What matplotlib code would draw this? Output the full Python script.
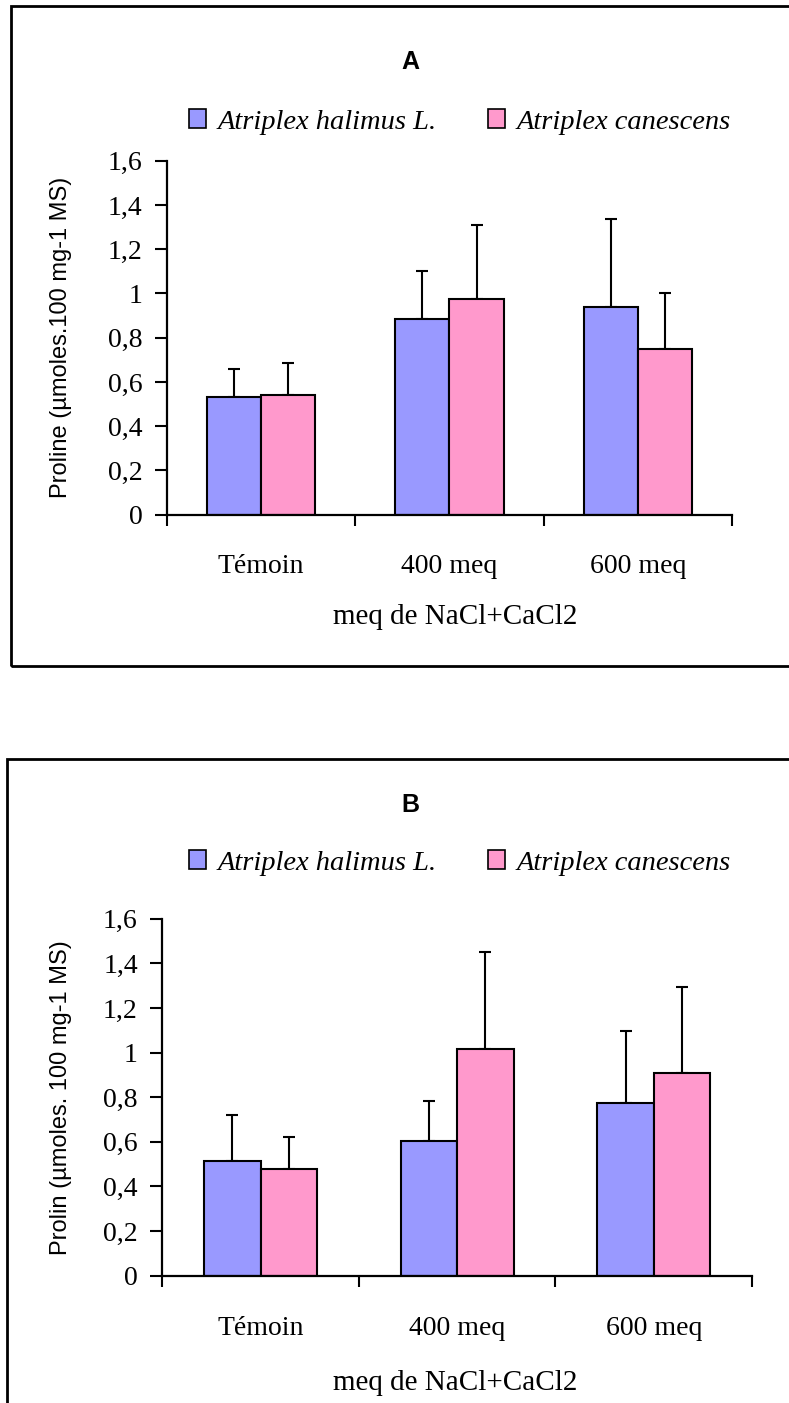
import matplotlib
matplotlib.use("Agg")
from matplotlib import pyplot as plt
from matplotlib.patches import Rectangle, Patch

# data
categories = ["Témoin", "400 meq", "600 meq"]
series_names = ["Atriplex halimus L.", "Atriplex canescens"]

a_halimus = [0.533, 0.885, 0.940]
a_halimus_err = [0.126, 0.216, 0.396]
a_canescens = [0.541, 0.975, 0.749]
a_canescens_err = [0.146, 0.334, 0.253]

b_halimus = [0.514, 0.604, 0.776]
b_halimus_err = [0.206, 0.180, 0.322]
b_canescens = [0.480, 1.016, 0.910]
b_canescens_err = [0.142, 0.433, 0.385]

yticks = [0, 0.2, 0.4, 0.6, 0.8, 1.0, 1.2, 1.4, 1.6]
ytick_labels = ["0", "0,2", "0,4", "0,6", "0,8", "1", "1,2", "1,4", "1,6"]

blue = "#9999FF"
pink = "#FF99CC"
serif = "Liberation Serif"
sans = "Liberation Sans"

W, H = 789, 1403


def panel(fig, rect, title, title_y, leg_y, ylabel, s1, e1, s2, e2, tick_pad, xlab_y, ylab_x):
    ax = fig.add_axes(rect)
    x = list(range(len(categories)))
    w = 0.287
    x1 = [i - w / 2 for i in x]
    x2 = [i + w / 2 for i in x]
    ax.bar(x1, s1, w, color=blue, edgecolor="black", linewidth=1.5, zorder=2)
    ax.bar(x2, s2, w, color=pink, edgecolor="black", linewidth=1.5, zorder=2)
    ax.errorbar(x1, s1, yerr=[[0] * 3, e1], fmt="none", ecolor="black",
                elinewidth=1.5, capsize=4.6, capthick=1.5, zorder=1)
    ax.errorbar(x2, s2, yerr=[[0] * 3, e2], fmt="none", ecolor="black",
                elinewidth=1.5, capsize=4.6, capthick=1.5, zorder=1)

    ax.set_xlim(-0.5, 2.5)
    ax.set_ylim(0, 1.6)
    for s in ["top", "right"]:
        ax.spines[s].set_visible(False)
    for s in ["left", "bottom"]:
        ax.spines[s].set_linewidth(1.6)

    ax.set_yticks(yticks)
    ax.set_yticklabels(ytick_labels, fontfamily=serif, fontsize=20)
    ax.tick_params(axis="y", direction="out", length=8.6, width=1.5, pad=9)

    ax.set_xticks([-0.5, 0.5, 1.5, 2.5])
    ax.set_xticklabels([])
    ax.tick_params(axis="x", which="major", direction="out", length=8, width=1.5)
    ax.set_xticks(x, minor=True)
    ax.set_xticklabels(categories, minor=True, fontfamily=serif, fontsize=20)
    ax.tick_params(axis="x", which="minor", length=0, pad=tick_pad)

    ax.set_ylabel(ylabel, fontfamily=sans, fontsize=17)
    ax.yaxis.set_label_coords(ylab_x, 0.5)

    fig.text(455 / W, 1 - xlab_y / H, "meq de NaCl+CaCl2", fontfamily=serif,
             fontsize=21, ha="center", va="center")
    fig.text(410 / W, 1 - title_y / H, title, fontfamily=sans, fontsize=18,
             fontweight="bold", ha="center", va="center")

    handles = [Patch(facecolor=blue, edgecolor="black", linewidth=1.2),
               Patch(facecolor=pink, edgecolor="black", linewidth=1.2)]
    fig.legend(handles, series_names, loc="center", bbox_to_anchor=(460 / W, 1 - leg_y / H),
               ncol=2, frameon=False, handlelength=0.6, handleheight=0.6,
               handletextpad=0.4, columnspacing=1.8, borderpad=0,
               prop={"family": serif, "style": "italic", "size": 20.5})
    return ax


fig = plt.figure(figsize=(W / 100, H / 100), dpi=100)

panel(fig, [167 / W, 1 - 514.7 / H, (732 - 167) / W, (514.7 - 160.7) / H],
      "A", 62, 122, "Proline (µmoles.100 mg-1 MS)",
      a_halimus, a_halimus_err, a_canescens, a_canescens_err, 28, 617, -0.168)
panel(fig, [162.3 / W, 1 - 1275.7 / H, (752 - 162.3) / W, (1275.7 - 918.7) / H],
      "B", 805, 863, "Prolin (µmoles. 100 mg-1 MS)",
      b_halimus, b_halimus_err, b_canescens, b_canescens_err, 29, 1383, -0.153)

# outer frames around each chart
fig.add_artist(Rectangle((11 / W, 1 - 666 / H), 800 / W, 660 / H, transform=fig.transFigure,
                         fill=False, edgecolor="black", linewidth=2))
fig.add_artist(Rectangle((7 / W, -10 / H), 800 / W, (1403 - 759 + 10) / H,
                         transform=fig.transFigure, fill=False, edgecolor="black", linewidth=2))

fig.savefig("out.png", dpi=100)
